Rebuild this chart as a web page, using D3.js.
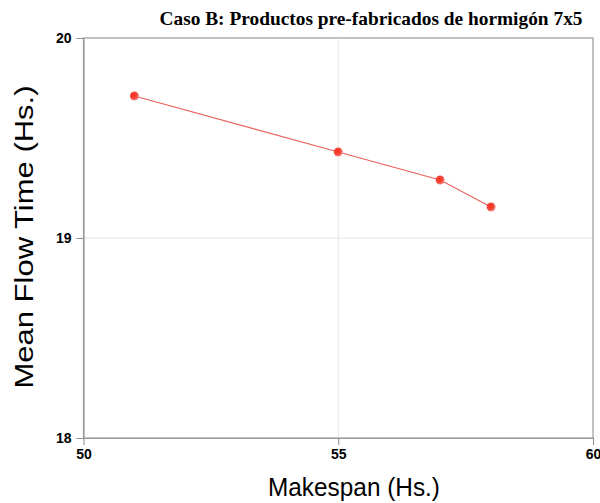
<!DOCTYPE html>
<html>
<head>
<meta charset="utf-8">
<script src="https://cdn.jsdelivr.net/npm/d3@7"></script>
<style>
  html, body { margin: 0; padding: 0; background: #fff; }
  svg { display: block; }
</style>
</head>
<body>
<svg id="chart" width="600" height="503"></svg>
<script>
// Pareto front: makespan vs mean flow time
const makespan = [51, 55, 57, 58];
const meanFlow = [19.71, 19.43, 19.29, 19.155];
const xTicks = [50, 55, 60];
const yTicks = [18, 19, 20];
const title = "Caso B: Productos pre-fabricados de hormigón 7x5";
const xTitle = "Makespan (Hs.)";
const yTitle = "Mean Flow Time (Hs.)";

const svg = d3.select("#chart");
const plotL = 83.5, plotR = 593, plotT = 38, plotB = 438;

const x = d3.scaleLinear().domain([50, 60]).range([plotL, plotR]);
const y = d3.scaleLinear().domain([18, 20]).range([plotB, plotT]);

const defs = svg.append("defs");
const grad = defs.append("radialGradient").attr("id", "dot").attr("cx", "40%").attr("cy", "40%").attr("r", "65%");
grad.append("stop").attr("offset", "0%").attr("stop-color", "#ff2a1a");
grad.append("stop").attr("offset", "60%").attr("stop-color", "#f04a3e");
grad.append("stop").attr("offset", "100%").attr("stop-color", "#f7a09a");

// grid lines
svg.append("g").selectAll("line").data([55]).join("line")
  .attr("x1", d => x(d)).attr("x2", d => x(d)).attr("y1", plotT).attr("y2", plotB)
  .attr("stroke", "#e4e4e4").attr("stroke-width", 1);
svg.append("g").selectAll("line").data([19]).join("line")
  .attr("x1", plotL).attr("x2", plotR).attr("y1", d => y(d)).attr("y2", d => y(d))
  .attr("stroke", "#e4e4e4").attr("stroke-width", 1);

// frame
svg.append("rect").attr("x", plotL).attr("y", plotT).attr("width", plotR - plotL).attr("height", plotB - plotT)
  .attr("fill", "none").attr("stroke", "#9a9a9a").attr("stroke-width", 1.2);

// axes
const xAxis = svg.append("g").attr("transform", `translate(0,${plotB})`)
  .call(d3.axisBottom(x).tickValues(xTicks).tickFormat(d3.format("d")).tickSize(7).tickSizeOuter(0).tickPadding(4));
const yAxis = svg.append("g").attr("transform", `translate(${plotL},0)`)
  .call(d3.axisLeft(y).tickValues(yTicks).tickFormat(d3.format("d")).tickSize(7).tickSizeOuter(0).tickPadding(5));
[xAxis, yAxis].forEach(g => {
  g.select(".domain").attr("stroke", "#9a9a9a").attr("stroke-width", 1.2);
  g.selectAll(".tick line").attr("stroke", "#8a8a8a");
  g.selectAll(".tick text").attr("fill", "#000")
    .style("font-family", "Liberation Sans, Arial, sans-serif")
    .style("font-size", "14px").style("font-weight", "bold");
});

// series line and markers
const pts = makespan.map((m, i) => [m, meanFlow[i]]);
svg.append("path").datum(pts)
  .attr("d", d3.line().x(d => x(d[0])).y(d => y(d[1])))
  .attr("fill", "none").attr("stroke", "#e8605a").attr("stroke-width", 1.1);
svg.append("g").selectAll("circle").data(pts).join("circle")
  .attr("cx", d => x(d[0])).attr("cy", d => y(d[1])).attr("r", 4.5)
  .attr("fill", "url(#dot)");

// titles
svg.append("text").attr("x", 371).attr("y", 25).attr("text-anchor", "middle")
  .attr("textLength", 423).attr("lengthAdjust", "spacingAndGlyphs")
  .style("font-family", "Liberation Serif, 'Times New Roman', serif")
  .style("font-size", "19px").style("font-weight", "bold").text(title);
svg.append("text").attr("x", 354).attr("y", 496).attr("text-anchor", "middle")
  .attr("textLength", 172).attr("lengthAdjust", "spacingAndGlyphs")
  .style("font-family", "Liberation Sans, Arial, sans-serif")
  .style("font-size", "25px").text(xTitle);
svg.append("text").attr("transform", `translate(33,237) rotate(-90)`).attr("text-anchor", "middle")
  .attr("textLength", 303).attr("lengthAdjust", "spacingAndGlyphs")
  .style("font-family", "Liberation Sans, Arial, sans-serif")
  .style("font-size", "25px").text(yTitle);
</script>
</body>
</html>
